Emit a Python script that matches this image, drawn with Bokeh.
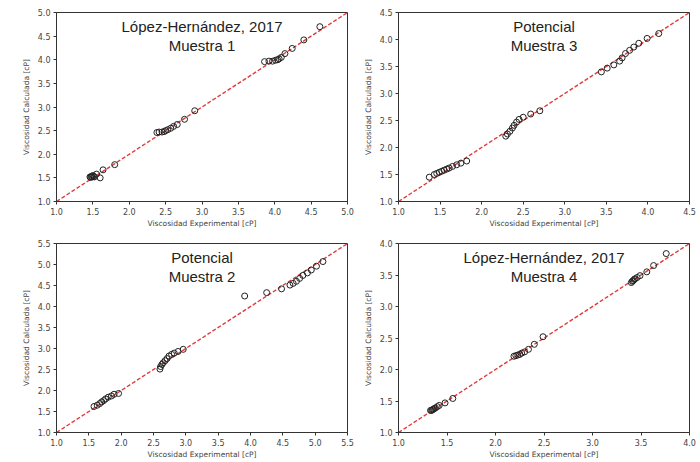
from bokeh.plotting import figure
from bokeh.layouts import column, row
from bokeh.models import FixedTicker, NumeralTickFormatter, Label
from bokeh.embed import file_html
from bokeh.resources import INLINE

# ---- data ----
titles = [("López-Hernández, 2017", "Muestra 1"), ("Potencial", "Muestra 3"),
          ("Potencial", "Muestra 2"), ("López-Hernández, 2017", "Muestra 4")]
limits = [(1.0, 5.0), (1.0, 4.5), (1.0, 5.5), (1.0, 4.0)]

x1 = [1.46, 1.47, 1.48, 1.49, 1.50, 1.51, 1.52, 1.55, 1.60, 1.64, 1.80,
      2.38, 2.41, 2.45, 2.48, 2.50, 2.53, 2.57, 2.61, 2.66, 2.76, 2.90,
      3.86, 3.92, 3.97, 4.01, 4.04, 4.06, 4.09, 4.14, 4.24, 4.40, 4.62]
y1 = [1.52, 1.51, 1.53, 1.52, 1.55, 1.53, 1.52, 1.58, 1.50, 1.67, 1.78,
      2.46, 2.47, 2.47, 2.48, 2.50, 2.52, 2.55, 2.59, 2.63, 2.74, 2.92,
      3.96, 3.97, 3.97, 3.99, 4.00, 4.02, 4.05, 4.13, 4.24, 4.42, 4.70]

x3 = [1.37, 1.43, 1.46, 1.49, 1.52, 1.55, 1.58, 1.61, 1.65, 1.70, 1.75, 1.82,
      2.29, 2.31, 2.34, 2.37, 2.39, 2.42, 2.45, 2.50, 2.59, 2.70,
      3.44, 3.51, 3.59, 3.66, 3.69, 3.73, 3.78, 3.83, 3.89, 3.99, 4.13]
y3 = [1.45, 1.50, 1.52, 1.54, 1.56, 1.58, 1.60, 1.62, 1.65, 1.68, 1.71, 1.75,
      2.21, 2.25, 2.30, 2.36, 2.41, 2.47, 2.52, 2.56, 2.62, 2.68,
      3.40, 3.47, 3.53, 3.60, 3.66, 3.74, 3.80, 3.86, 3.93, 4.02, 4.11]

x2 = [1.58, 1.63, 1.67, 1.70, 1.73, 1.76, 1.80, 1.85, 1.89, 1.96,
      2.60, 2.61, 2.63, 2.65, 2.68, 2.71, 2.74, 2.78, 2.82, 2.88, 2.96,
      3.91, 4.25, 4.48, 4.61, 4.66, 4.71, 4.76, 4.81, 4.88, 4.94, 5.02, 5.12]
y2 = [1.62, 1.65, 1.69, 1.73, 1.76, 1.80, 1.84, 1.87, 1.91, 1.93,
      2.51, 2.57, 2.62, 2.66, 2.71, 2.76, 2.82, 2.86, 2.89, 2.93, 2.98,
      4.25, 4.33, 4.42, 4.51, 4.55, 4.60, 4.67, 4.74, 4.80, 4.87, 4.96, 5.07]

x4 = [1.33, 1.34, 1.35, 1.36, 1.37, 1.38, 1.40, 1.42, 1.48, 1.56,
      2.19, 2.21, 2.23, 2.25, 2.27, 2.30, 2.34, 2.40, 2.49,
      3.40, 3.41, 3.42, 3.43, 3.44, 3.46, 3.49, 3.56, 3.63, 3.76]
y4 = [1.35, 1.35, 1.36, 1.37, 1.38, 1.39, 1.41, 1.43, 1.47, 1.54,
      2.21, 2.22, 2.23, 2.24, 2.26, 2.28, 2.32, 2.40, 2.52,
      3.38, 3.40, 3.41, 3.43, 3.44, 3.46, 3.49, 3.55, 3.65, 3.84]

xs = [x1, x3, x2, x4]
ys = [y1, y3, y2, y4]

xlabel = "Viscosidad Experimental [cP]"
ylabel = "Viscosidad Calculada [cP]"


def make(i, left_col):
    lo, hi = limits[i]
    ticks = [lo + 0.5 * k for k in range(int(round((hi - lo) / 0.5)) + 1)]
    if left_col:
        w, bl, br = 357, 56, 10
    else:
        w, bl, br = 343, 41, 11
    p = figure(width=w, height=231, x_range=(lo, hi), y_range=(lo, hi),
               output_backend="svg", toolbar_location=None,
               min_border_left=bl, min_border_right=br,
               min_border_top=12, min_border_bottom=30)
    p.grid.visible = False
    p.background_fill_color = None
    p.border_fill_color = None
    p.outline_line_color = "#333333"
    p.outline_line_width = 1
    for ax, lab in ((p.xaxis, xlabel), (p.yaxis, ylabel)):
        ax.ticker = FixedTicker(ticks=ticks)
        ax.formatter = NumeralTickFormatter(format="0.0")
        ax.minor_tick_line_color = None
        ax.major_tick_out = 3
        ax.major_tick_in = 0
        ax.major_tick_line_color = "#333333"
        ax.axis_line_color = "#333333"
        ax.major_label_text_font = "DejaVu Sans"
        ax.major_label_text_font_size = "8px"
        ax.major_label_text_color = "#444444"
        ax.axis_label = lab
        ax.axis_label_text_font = "DejaVu Sans"
        ax.axis_label_text_font_size = "7.5px"
        ax.axis_label_text_font_style = "normal"
        ax.axis_label_text_color = "#444444"
    p.xaxis.major_label_standoff = 3
    p.xaxis.axis_label_standoff = 1
    p.yaxis.major_label_standoff = 3
    p.yaxis.axis_label_standoff = 4

    p.line([lo, hi], [lo, hi], line_color="#e03a3a", line_width=1.4,
           line_dash="4 2")
    p.scatter(xs[i], ys[i], size=6, marker="circle", fill_color=None,
              line_color="#222222", line_width=1)

    t1, t2 = titles[i]
    cx = (lo + hi) / 2
    for txt, frac in ((t1, 0.074), (t2, 0.175)):
        p.add_layout(Label(x=cx, y=hi - (hi - lo) * frac, text=txt,
                           text_align="center", text_baseline="middle",
                           text_font="Liberation Sans", text_font_size="15px",
                           text_color="#222222"))
    return p


p1 = make(0, True)
p2 = make(1, False)
p3 = make(2, True)
p4 = make(3, False)

layout = column(row(p1, p2, spacing=0), row(p3, p4, spacing=0), spacing=0)

open("out.html", "w").write(file_html(layout, INLINE))
